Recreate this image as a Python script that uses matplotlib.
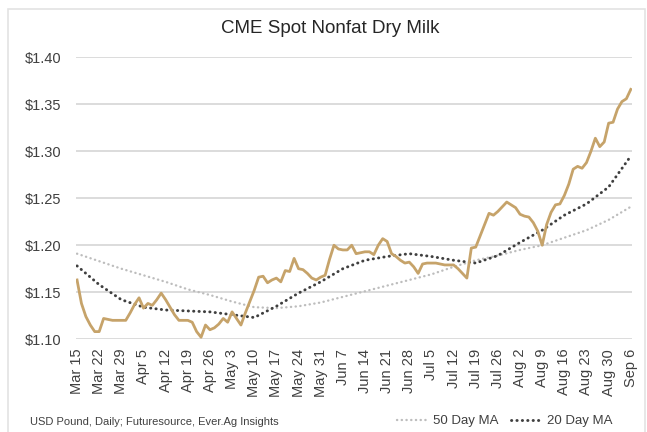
import numpy as np
import matplotlib
matplotlib.use("Agg")
import matplotlib.pyplot as plt
from matplotlib.patches import Rectangle

plt.rcParams['font.family'] = ['Liberation Sans', 'DejaVu Sans']

# daily spot price (every weekday, Mar 15 - Sep 6)
price = [1.163, 1.138, 1.124, 1.115, 1.108, 1.108, 1.122, 1.121, 1.120, 1.120,
         1.120, 1.120, 1.128, 1.137, 1.144, 1.133, 1.138, 1.136, 1.142, 1.149,
         1.142, 1.134, 1.126, 1.120, 1.120, 1.120, 1.118, 1.108, 1.102, 1.115,
         1.110, 1.112, 1.116, 1.122, 1.118, 1.129, 1.122, 1.115, 1.128, 1.140,
         1.152, 1.166, 1.167, 1.160, 1.163, 1.165, 1.161, 1.173, 1.172, 1.186,
         1.175, 1.174, 1.170, 1.165, 1.163, 1.166, 1.168, 1.185, 1.200, 1.196,
         1.195, 1.195, 1.200, 1.191, 1.192, 1.193, 1.193, 1.190, 1.200, 1.207,
         1.204, 1.191, 1.188, 1.184, 1.181, 1.182, 1.177, 1.170, 1.180, 1.181,
         1.181, 1.181, 1.180, 1.179, 1.179, 1.179, 1.175, 1.170, 1.165, 1.197,
         1.198, 1.210, 1.222, 1.234, 1.232, 1.236, 1.241, 1.246, 1.243, 1.240,
         1.233, 1.231, 1.230, 1.224, 1.215, 1.200, 1.222, 1.235, 1.243, 1.244,
         1.253, 1.265, 1.281, 1.284, 1.282, 1.288, 1.300, 1.314, 1.305, 1.310,
         1.330, 1.331, 1.345, 1.353, 1.356, 1.366]

# moving averages read at each weekly label (every 5th weekday)
ma20 = [1.178, 1.158, 1.142, 1.134, 1.131, 1.130, 1.129, 1.126, 1.123, 1.135,
        1.149, 1.161, 1.175, 1.184, 1.188, 1.191, 1.188, 1.184, 1.181, 1.189,
        1.203, 1.216, 1.232, 1.244, 1.262, 1.295]
ma50 = [1.191, 1.183, 1.175, 1.168, 1.161, 1.153, 1.147, 1.140, 1.134, 1.133,
        1.135, 1.139, 1.145, 1.151, 1.157, 1.163, 1.169, 1.177, 1.184, 1.189,
        1.195, 1.200, 1.208, 1.216, 1.227, 1.241]

tick_labels = ["Mar 15", "Mar 22", "Mar 29", "Apr 5", "Apr 12", "Apr 19", "Apr 26",
               "May 3", "May 10", "May 17", "May 24", "May 31", "Jun 7", "Jun 14",
               "Jun 21", "Jun 28", "Jul 5", "Jul 12", "Jul 19", "Jul 26", "Aug 2",
               "Aug 9", "Aug 16", "Aug 23", "Aug 30", "Sep 6"]
y_ticks = [1.10, 1.15, 1.20, 1.25, 1.30, 1.35, 1.40]

x = np.arange(len(price))
x_week = np.arange(0, len(price), 5)

fig = plt.figure(figsize=(6.47, 4.32), dpi=100)
ax = fig.add_axes([0.117, 0.215, 0.860, 0.652])

# dotted MA lines: tiny dashes with round caps give separate dots
ax.plot(x_week, ma50, color='#bdbdbd', lw=1.7, linestyle=(0, (0.1, 1.9)),
        dash_capstyle='round', label='50 Day MA', zorder=2)
ax.plot(x_week, ma20, color='#3f3f3f', lw=2.1, linestyle=(0, (0.1, 1.75)),
        dash_capstyle='round', label='20 Day MA', zorder=3)
ax.plot(x, price, color='#c6a36a', lw=2.0, zorder=4)

ax.set_ylim(1.10, 1.40)
ax.set_xlim(-0.3, len(price) - 0.7)
ax.set_yticks(y_ticks)
ax.set_yticklabels(['$%.2f' % v for v in y_ticks])
ax.set_xticks(x_week)
ax.set_xticklabels(tick_labels, rotation=90)
ax.grid(axis='y', color='#d9d9d9', lw=1.3)
ax.set_axisbelow(True)
for s in ax.spines.values():
    s.set_visible(False)
ax.tick_params(axis='y', length=0, pad=10, labelsize=10.5, labelcolor='#404040')
ax.tick_params(axis='x', length=0, pad=7, labelsize=10.5, labelcolor='#404040')

fig.text(0.51, 0.935, 'CME Spot Nonfat Dry Milk', ha='center', va='center',
         fontsize=13.5, color='#262626')
fig.text(0.046, 0.022, 'USD Pound, Daily; Futuresource, Ever.Ag Insights',
         ha='left', va='center', fontsize=8, color='#404040')
fig.legend(loc='center right', bbox_to_anchor=(0.965, 0.025), ncol=2, frameon=False,
           fontsize=9.5, handlelength=2.4, columnspacing=1.0, handletextpad=0.3,
           labelcolor='#404040')

fig.patches.append(Rectangle((0.012, -0.05), 0.985, 1.03, transform=fig.transFigure,
                             fill=False, edgecolor='#e3e3e3', lw=1.2))

fig.savefig('out.png', dpi=100)
